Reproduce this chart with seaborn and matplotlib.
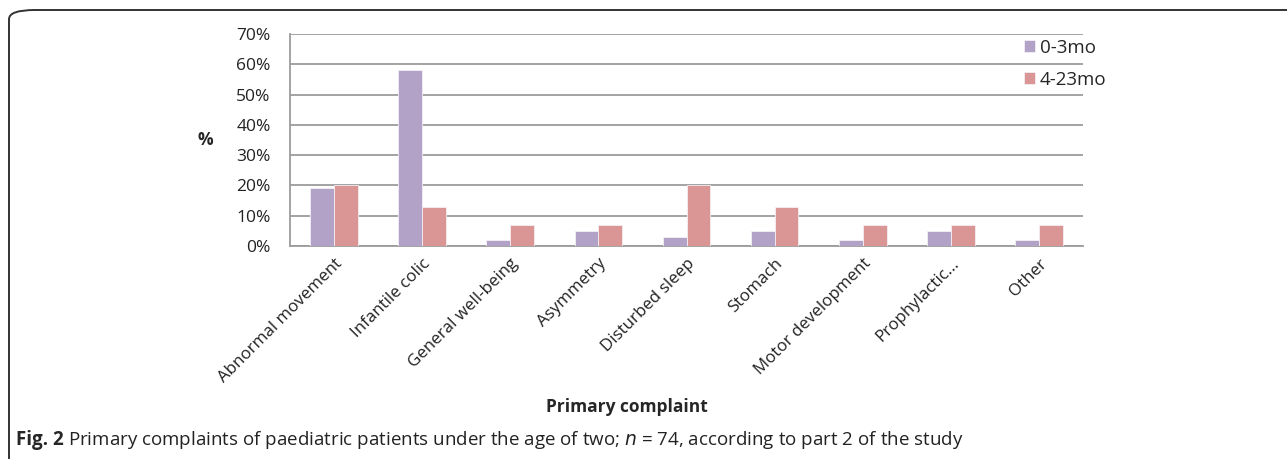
import matplotlib
matplotlib.use("Agg")
import matplotlib.pyplot as plt
import seaborn as sns
import pandas as pd
from matplotlib.patches import FancyBboxPatch

# ── data ──────────────────────────────────────────────────────────────────────
complaints = ["Abnormal movement", "Infantile colic", "General well-being",
              "Asymmetry", "Disturbed sleep", "Stomach", "Motor development",
              "Prophylactic...", "Other"]
age_0_3 = [19, 58, 2, 5, 3, 5, 2, 5, 2]
age_4_23 = [20, 13, 7, 7, 20, 13, 7, 7, 7]
groups = ["0-3mo", "4-23mo"]
colors = ["#B3A2C7", "#D99694"]

df = pd.DataFrame({
    "complaint": complaints * 2,
    "pct": age_0_3 + age_4_23,
    "group": [groups[0]] * len(complaints) + [groups[1]] * len(complaints),
})

sns.set_style("white")
plt.rcParams["font.family"] = ["Open Sans", "DejaVu Sans"]

fig = plt.figure(figsize=(12.87, 4.59), dpi=100)
ax = fig.add_axes([290 / 1287, 1 - 246 / 459, (1083 - 290) / 1287, (246 - 34) / 459])

sns.barplot(data=df, x="complaint", y="pct", hue="group", palette=colors,
            saturation=1, width=0.54, edgecolor="#f4eef4", linewidth=0.6,
            ax=ax, zorder=3)

ax.set_ylim(0, 70)
ax.set_xlim(-0.5, len(complaints) - 0.5)
ax.set_yticks(range(0, 71, 10))
ax.set_yticklabels([f"{v}%" for v in range(0, 71, 10)], fontsize=12.5, color="#222222")
ax.yaxis.grid(True, color="#9c9c9c", linewidth=1.3, zorder=0)
ax.set_axisbelow(True)

# category ticks at boundaries, labels rotated at centres
ax.set_xticks([i + 0.5 for i in range(-1, len(complaints))], minor=False)
ax.set_xticklabels([""] * (len(complaints) + 1))
ax.set_xticks(range(len(complaints)), minor=True)
ax.set_xticklabels(complaints, minor=True, rotation=45, ha="right",
                   rotation_mode="anchor", fontsize=12.2, color="#222222")
ax.tick_params(axis="x", which="minor", length=0, pad=7)
ax.tick_params(axis="x", which="major", length=6, width=1.3, color="#9c9c9c", direction="out")
ax.tick_params(axis="y", length=6, width=1.3, color="#9c9c9c", direction="out", pad=8)

for s in ["top", "right"]:
    ax.spines[s].set_visible(False)
for s in ["left", "bottom"]:
    ax.spines[s].set_color("#9c9c9c")
    ax.spines[s].set_linewidth(1.3)

ax.set_xlabel("")
ax.set_ylabel("")
fig.text(205 / 1287, 1 - 140 / 459, "%", fontsize=12.5, fontweight="bold",
         ha="center", va="center")
fig.text(627 / 1287, 1 - 407 / 459, "Primary complaint", fontsize=12.5,
         fontweight="bold", ha="center", va="center")

leg = ax.legend(loc="upper left", bbox_to_anchor=(1007 / 1287, 1 - 22 / 459),
                bbox_transform=fig.transFigure, frameon=False, fontsize=13.5,
                handlelength=0.6, handleheight=0.6, handletextpad=0.25,
                labelspacing=0.75)

# outer caption box
box = FancyBboxPatch((9 / 1287, -0.1), 1.2, 1.1 - 10 / 459,
                     boxstyle="round,pad=0,rounding_size=0.02",
                     transform=fig.transFigure, fill=False,
                     edgecolor="#333333", linewidth=1.4, clip_on=False)
fig.patches.append(box)

fig.text(16 / 1287, 1 - 440 / 459, "Fig. 2", fontsize=13.5, fontweight="bold",
         ha="left", va="center")
fig.text(68 / 1287, 1 - 440 / 459,
         "Primary complaints of paediatric patients under the age of two; $n$ = 74, according to part 2 of the study",
         fontsize=13.5, ha="left", va="center", color="#222222")

plt.savefig("out.png", dpi=100)
